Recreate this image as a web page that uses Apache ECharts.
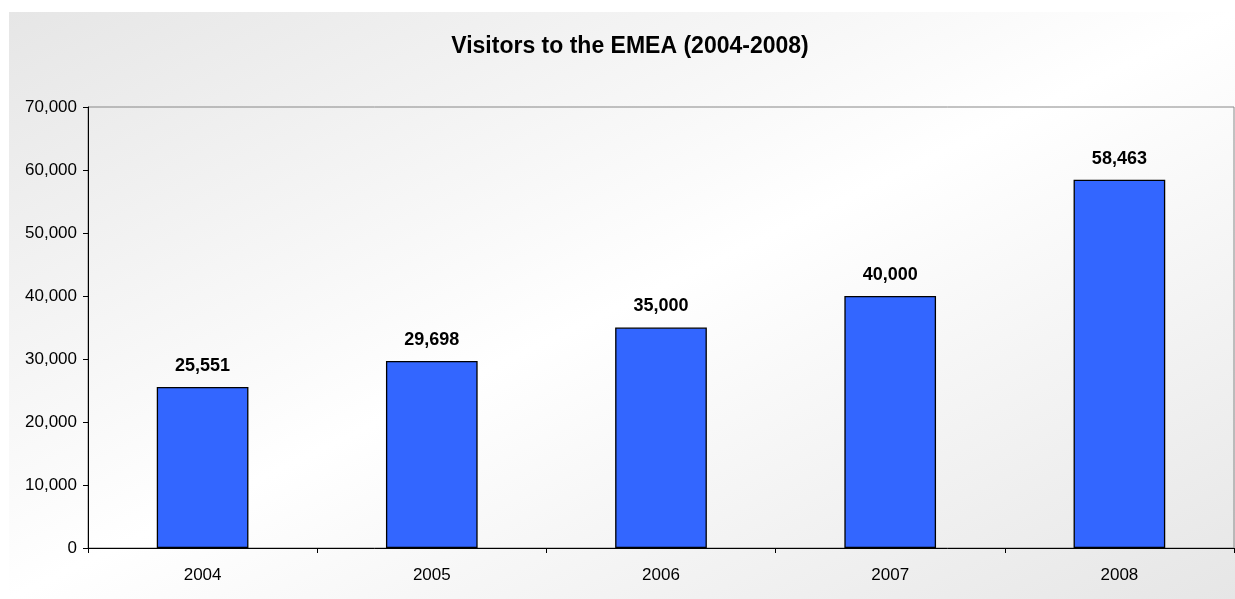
<!DOCTYPE html>
<html>
<head>
<meta charset="utf-8">
<script src="https://cdn.jsdelivr.net/npm/echarts@6/dist/echarts.min.js"></script>
<style>
html,body{margin:0;padding:0;background:#fff;}
#c{width:1235px;height:599px;}
</style>
</head>
<body>
<div id="c"></div>
<script>
const title = 'Visitors to the EMEA (2004-2008)';
const categories = ['2004', '2005', '2006', '2007', '2008'];
const visitors = [25551, 29698, 35000, 40000, 58463];
const yTicks = [0, 10000, 20000, 30000, 40000, 50000, 60000, 70000];

function fmt(v) { return String(v).replace(/\B(?=(\d{3})+(?!\d))/g, ','); }

const font = '"Liberation Sans", Arial, sans-serif';
const chart = echarts.init(document.getElementById('c'), null, {renderer: 'canvas'});
chart.setOption({
  animation: false,
  backgroundColor: '#ffffff',
  graphic: [{
    type: 'rect', z: -10, silent: true,
    shape: {x: 9, y: 12, width: 1226, height: 587},
    style: {
      fill: new echarts.graphic.LinearGradient(9, 12, 466, 967, [
        {offset: 0, color: '#e6e6e6'},
        {offset: 0.5, color: '#ffffff'},
        {offset: 1, color: '#e6e6e6'}
      ], true)
    }
  }],
  title: {
    text: title, left: 625, top: 30, textAlign: 'center',
    textStyle: {fontFamily: font, fontSize: 23, fontWeight: 'bold', color: '#000'}
  },
  grid: {left: 88, right: 1, top: 107, bottom: 51, show: true, borderColor: '#888', borderWidth: 1, backgroundColor: 'transparent'},
  xAxis: {
    type: 'category', data: categories,
    axisLine: {lineStyle: {color: '#000', width: 1}},
    axisTick: {show: true, alignWithLabel: false, length: 5, lineStyle: {color: '#000'}},
    axisLabel: {fontFamily: font, fontSize: 17, color: '#000', margin: 19}
  },
  yAxis: {
    type: 'value', min: yTicks[0], max: yTicks[yTicks.length - 1], interval: yTicks[1] - yTicks[0],
    axisLine: {show: true, lineStyle: {color: '#000', width: 1}},
    axisTick: {show: true, length: 5, lineStyle: {color: '#000'}},
    splitLine: {show: false},
    axisLabel: {fontFamily: font, fontSize: 17, color: '#000', margin: 11, formatter: fmt}
  },
  series: [{
    type: 'bar', data: visitors, barWidth: '40%',
    itemStyle: {color: '#3366FF', borderColor: '#000', borderWidth: 1.3},
    label: {show: true, position: 'top', distance: 12, formatter: p => fmt(p.value),
      fontFamily: font, fontSize: 18, fontWeight: 'bold', color: '#000'}
  }]
});
</script>
</body>
</html>
